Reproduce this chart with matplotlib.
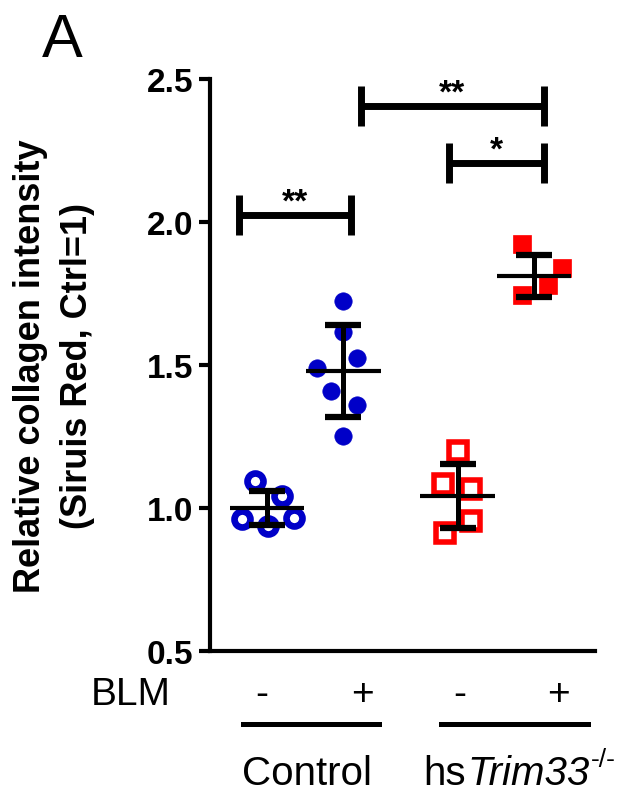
import matplotlib
matplotlib.use('Agg')
import matplotlib.pyplot as plt
from matplotlib.lines import Line2D

plt.rcParams['font.family'] = ['Liberation Sans', 'DejaVu Sans']

# ---- data ----
groups = ['Control -', 'Control +', 'hsTrim33 -', 'hsTrim33 +']
ctrl_noblm = [1.094, 1.042, 0.962, 0.937, 0.965]
ctrl_blm = [1.724, 1.615, 1.524, 1.490, 1.409, 1.360, 1.252]
ko_noblm = [1.200, 1.084, 1.066, 0.955, 0.913]
ko_blm = [1.923, 1.840, 1.781, 1.746]
# horizontal scatter offsets of individual points
off_ctrl_noblm = [-0.16, 0.20, -0.33, 0.01, 0.35]
off_ctrl_blm = [0.0, 0.0, 0.18, -0.35, -0.16, 0.18, 0.0]
off_ko_noblm = [0.0, -0.19, 0.18, 0.17, -0.17]
off_ko_blm = [-0.16, 0.37, 0.18, -0.16]
means = [1.000, 1.479, 1.042, 1.811]
sds = [0.061, 0.160, 0.113, 0.074]
yticks = [0.5, 1.0, 1.5, 2.0, 2.5]
ytick_labels = ['0.5', '1.0', '1.5', '2.0', '2.5']
sig_labels = ['**', '*', '**']

W, H = 636, 803
fig = plt.figure(figsize=(W / 100, H / 100), dpi=100)


def fx(x):
    return x / W


def fy(y):
    return 1 - y / H


ax = fig.add_axes([fx(210), fy(652), fx(595) - fx(210), fy(80) - fy(652)])
ax.set_xlim(-0.747, 4.30)
ax.set_ylim(0.5, 2.5)

pos = [0.0, 1.0, 2.5, 3.5]
blue = '#0000C8'
red = '#FF0000'

series = [ctrl_noblm, ctrl_blm, ko_noblm, ko_blm]
offs = [off_ctrl_noblm, off_ctrl_blm, off_ko_noblm, off_ko_blm]
styles = [
    dict(marker='o', ms=11.5, mfc='white', mec=blue, mew=4.8),
    dict(marker='o', ms=12.5, mfc=blue, mec=blue, mew=0.5),
    dict(marker='s', ms=12.5, mfc='white', mec=red, mew=4.0),
    dict(marker='s', ms=12.5, mfc=red, mec=red, mew=0.5),
]
for p, vals, off, st in zip(pos, series, offs, styles):
    xs = [p + o for o in off]
    ax.plot(xs, vals, linestyle='none', zorder=3, **st)

ax.errorbar(pos, means, yerr=sds, fmt='none', ecolor='black',
            elinewidth=3.6, capsize=13.3, capthick=4.5, zorder=5)
ax.hlines(means, [p - 0.49 for p in pos], [p + 0.49 for p in pos],
          colors='black', linewidth=3.0, zorder=5)

# significance brackets
brackets = [(1.232, 3.63, 2.406), (2.385, 3.63, 2.206), (-0.367, 1.10, 2.024)]
for (x1, x2, yb), lab in zip(brackets, sig_labels):
    ax.plot([x1, x2], [yb, yb], color='black', lw=5, solid_capstyle='butt',
            clip_on=False, zorder=6)
    for xv in (x1, x2):
        ax.plot([xv, xv], [yb - 0.07, yb + 0.07], color='black', lw=5,
                solid_capstyle='butt', clip_on=False, zorder=6)
    ax.text((x1 + x2) / 2, yb + 0.015, lab, ha='center', va='baseline',
            fontsize=24, fontweight='bold', clip_on=False)

# axes styling
for s in ('top', 'right'):
    ax.spines[s].set_visible(False)
ax.spines['left'].set_linewidth(3)
ax.spines['bottom'].set_linewidth(3)
ax.spines['left'].set_bounds(0.5, 2.5)
ax.set_yticks(yticks)
ax.set_yticklabels(ytick_labels, fontsize=24, fontweight='bold')
ax.tick_params(axis='y', length=8, width=3, pad=4)
ax.set_xticks([])

# y label (two lines)
fig.text(fx(40), fy(366), 'Relative collagen intensity', rotation=90,
         rotation_mode='anchor', ha='center', va='baseline',
         fontsize=26, fontweight='bold')
fig.text(fx(87), fy(366), '(Siruis Red, Ctrl=1)', rotation=90,
         rotation_mode='anchor', ha='center', va='baseline',
         fontsize=26, fontweight='bold')

# panel letter
fig.text(fx(62), fy(57), 'A', ha='center', va='baseline', fontsize=44)

# BLM row
fig.text(fx(131), fy(705), 'BLM', ha='center', va='baseline', fontsize=28)
for xp, s in zip([262, 362, 460, 558], ['-', '+', '-', '+']):
    fig.text(fx(xp), fy(705), s, ha='center', va='baseline', fontsize=28)

# group underlines
for x1, x2 in [(243, 379), (441, 588)]:
    fig.add_artist(Line2D([fx(x1), fx(x2)], [fy(725), fy(725)],
                          color='black', lw=3.6, transform=fig.transFigure))

fig.text(fx(307), fy(785), 'Control', ha='center', va='baseline', fontsize=29)
fig.text(fx(423), fy(785), 'hs', ha='left', va='baseline', fontsize=29)
t_it = fig.text(fx(467), fy(785), 'Trim33', ha='left', va='baseline',
                fontsize=29, fontstyle='italic')
renderer = fig.canvas.get_renderer()
bb = t_it.get_window_extent(renderer)
fig.text(bb.x1 / W + fx(2), fy(767), '-/-', ha='left', va='baseline',
         fontsize=19)

fig.savefig('out.png', dpi=100)
